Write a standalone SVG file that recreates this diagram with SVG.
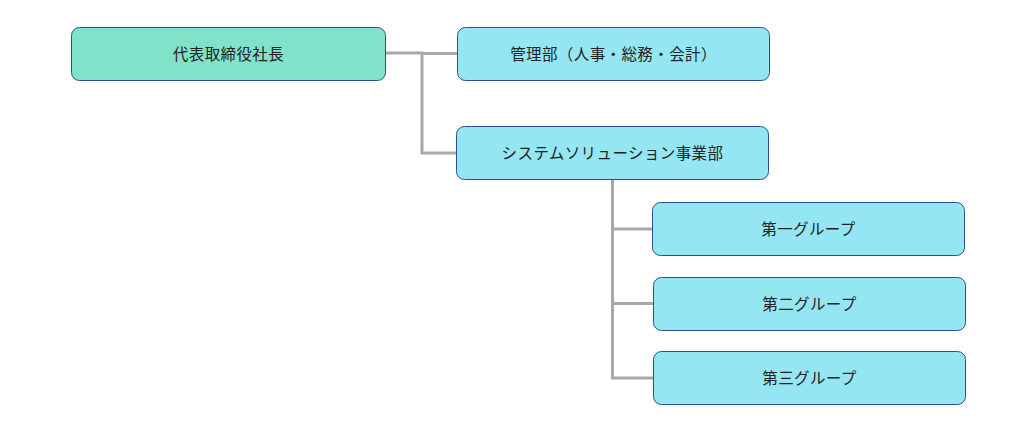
<svg xmlns="http://www.w3.org/2000/svg" width="1033" height="426" viewBox="0 0 1033 426">
<style>
.box{stroke:#2E4D8C;stroke-width:1}
.top{fill:#80E3C9}
.dept{fill:#94E7F2}
.lbl{font-family:"Noto Sans CJK JP","Noto Sans",sans-serif;font-size:15.5px;letter-spacing:0.4px;fill:#222;text-anchor:middle;dominant-baseline:central}
.conn{fill:none;stroke:#A8A8A8;stroke-width:3}
</style>
<rect width="1033" height="426" fill="#fff"/>
<g id="connectors">
<polyline class="conn" points="386,53 422,53 422,153 456,153"/>
<polyline class="conn" points="422,53.5 457,53.5"/>
<polyline class="conn" points="612.5,180 612.5,378 653,378"/>
<line class="conn" x1="612.5" y1="229" x2="652" y2="229"/>
<line class="conn" x1="612.5" y1="303.5" x2="653" y2="303.5"/>
</g>
<g id="ceo">
<rect class="box top" x="71.5" y="27.5" width="314" height="53" rx="8"/>
<text class="lbl" x="228.5" y="52.5">代表取締役社長</text>
</g>
<g id="kanri">
<rect class="box dept" x="457.5" y="27.5" width="312" height="53" rx="8"/>
<text class="lbl" x="613.5" y="52.5">管理部（人事・総務・会計）</text>
</g>
<g id="system">
<rect class="box dept" x="456.5" y="126.5" width="312" height="53" rx="8"/>
<text class="lbl" x="612.5" y="151.5">システムソリューション事業部</text>
</g>
<g id="group1">
<rect class="box dept" x="652.5" y="202.5" width="312" height="53" rx="8"/>
<text class="lbl" x="808.5" y="227.5">第一グループ</text>
</g>
<g id="group2">
<rect class="box dept" x="653.5" y="277.5" width="312" height="53" rx="8"/>
<text class="lbl" x="809.5" y="302.5">第二グループ</text>
</g>
<g id="group3">
<rect class="box dept" x="653.5" y="351.5" width="312" height="53" rx="8"/>
<text class="lbl" x="809.5" y="376.5">第三グループ</text>
</g>
</svg>
